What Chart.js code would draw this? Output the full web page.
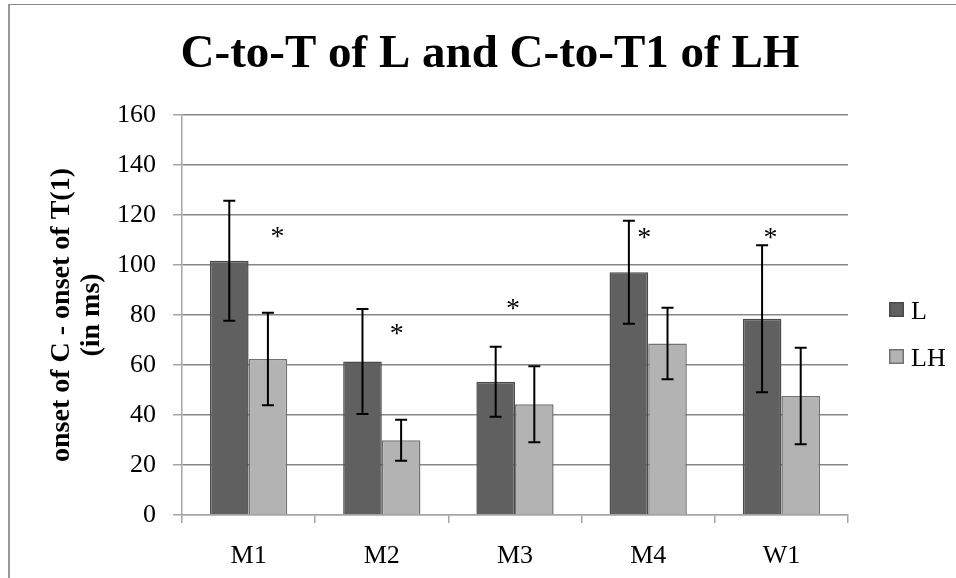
<!DOCTYPE html>
<html>
<head>
<meta charset="utf-8">
<script src="https://cdn.jsdelivr.net/npm/chart.js@4"></script>
<style>
  html, body { margin: 0; padding: 0; background: #fff; overflow: hidden; }
  #wrap { position: relative; width: 956px; height: 578px; }
  #frame {
    position: absolute; left: 8px; top: 4px; width: 1200px; height: 800px;
    border-left: 2px solid #989898; border-top: 1px solid #8a8a8a;
  }
  #chart { position: absolute; left: 0; top: 0; }
</style>
</head>
<body>
<div id="wrap">
  <div id="frame"></div>
  <canvas id="chart" width="956" height="578"></canvas>
</div>
<script>
// 데이터
const categories = ["M1", "M2", "M3", "M4", "W1"];
const seriesNames = ["L", "LH"];
const valuesL = [101.7, 61.4, 53.3, 97.1, 78.5];
const errorsL = [24.0, 21.0, 14.0, 20.6, 29.4];
const valuesLH = [62.4, 29.9, 44.3, 68.6, 47.6];
const errorsLH = [18.5, 8.2, 15.2, 14.3, 19.3];
// 유의성 표시(*) 높이, 없으면 null
const asteriskValues = [114, 75.2, 85.2, 113.6, 113.6];
const yTicks = [0, 20, 40, 60, 80, 100, 120, 140, 160];

const serif = "'Liberation Serif', 'DejaVu Serif', serif";
Chart.defaults.font.family = serif;
Chart.defaults.color = "#000";

// 오차 막대
const errorBarPlugin = {
  id: "errorBars",
  afterDatasetsDraw(chart) {
    const ctx = chart.ctx;
    const y = chart.scales.y;
    ctx.save();
    ctx.strokeStyle = "#000";
    ctx.lineWidth = 2;
    chart.data.datasets.forEach((ds, i) => {
      const meta = chart.getDatasetMeta(i);
      meta.data.forEach((bar, j) => {
        const v = ds.data[j];
        const e = ds.errors[j];
        const top = y.getPixelForValue(v + e);
        const bot = y.getPixelForValue(v - e);
        const cap = 6;
        ctx.beginPath();
        ctx.moveTo(bar.x, top);
        ctx.lineTo(bar.x, bot);
        ctx.moveTo(bar.x - cap, top);
        ctx.lineTo(bar.x + cap, top);
        ctx.moveTo(bar.x - cap, bot);
        ctx.lineTo(bar.x + cap, bot);
        ctx.stroke();
      });
    });
    ctx.restore();
  },
};

// 별표
const asteriskPlugin = {
  id: "asterisks",
  afterDatasetsDraw(chart, args, opts) {
    const ctx = chart.ctx;
    const x = chart.scales.x;
    const y = chart.scales.y;
    ctx.save();
    ctx.font = "28px " + serif;
    ctx.fillStyle = "#000";
    ctx.textAlign = "center";
    ctx.textBaseline = "alphabetic";
    asteriskValues.forEach((v, j) => {
      if (v === null) return;
      const px = x.getPixelForValue(j) + opts.offsets[j];
      const py = y.getPixelForValue(v) + 15;
      ctx.fillText("*", px, py);
    });
    ctx.restore();
  },
};

// 범례 (오른쪽)
const sideLegendPlugin = {
  id: "sideLegend",
  afterDraw(chart) {
    const ctx = chart.ctx;
    const area = chart.chartArea;
    ctx.save();
    ctx.font = "26px " + serif;
    ctx.textBaseline = "alphabetic";
    ctx.textAlign = "left";
    chart.data.datasets.forEach((ds, i) => {
      const bx = area.right + 41;
      const by = area.top + 187 + i * 47;
      ctx.fillStyle = ds.backgroundColor;
      ctx.strokeStyle = ds.borderColor;
      ctx.lineWidth = 1.5;
      ctx.fillRect(bx, by, 15, 15);
      ctx.strokeRect(bx + 0.75, by + 0.75, 13.5, 13.5);
      ctx.fillStyle = "#000";
      ctx.fillText(ds.label, bx + 22, by + 17);
    });
    ctx.restore();
  },
};

const ctx = document.getElementById("chart").getContext("2d");
new Chart(ctx, {
  type: "bar",
  data: {
    labels: categories,
    datasets: [
      {
        label: seriesNames[0],
        data: valuesL,
        errors: errorsL,
        backgroundColor: "#606060",
        borderColor: "#4a4a4a",
        borderWidth: 1.5,
      },
      {
        label: seriesNames[1],
        data: valuesLH,
        errors: errorsLH,
        backgroundColor: "#b3b3b3",
        borderColor: "#727272",
        borderWidth: 1.5,
      },
    ],
  },
  options: {
    responsive: false,
    animation: false,
    devicePixelRatio: 1,
    layout: { padding: { left: 24, right: 0, top: 0, bottom: 0 } },
    datasets: { bar: { categoryPercentage: 0.58, barPercentage: 1.0 } },
    scales: {
      x: {
        grid: {
          display: true,
          drawOnChartArea: false,
          drawTicks: true,
          tickLength: 8,
          color: "#a6a6a6",
          lineWidth: 1.5,
        },
        border: { display: true, color: "#a6a6a6", width: 1.5 },
        ticks: { font: { size: 26 }, padding: 18, color: "#000", maxRotation: 0 },
        afterFit: (scale) => {
          scale.height = 63;
        },
      },
      y: {
        min: 0,
        max: 160,
        afterBuildTicks: (scale) => {
          scale.ticks = yTicks.map((v) => ({ value: v }));
        },
        grid: {
          color: (c) => (c.tick && c.tick.value === 0 ? "#a6a6a6" : "#878787"),
          lineWidth: 1.5,
          tickLength: 9,
          tickColor: "#a6a6a6",
        },
        border: { display: true, color: "#a6a6a6", width: 1.5 },
        ticks: { font: { size: 26 }, padding: 17, color: "#000" },
        title: {
          display: true,
          text: ["onset of C - onset of T(1)", "(in ms)"],
          font: { size: 28, weight: "bold", lineHeight: "30px" },
          padding: { top: 23, bottom: 12 },
          color: "#000",
        },
        afterFit: (scale) => {
          scale.width = 158;
        },
      },
      // 범례 자리 확보용 (보이지 않음)
      yr: {
        position: "right",
        display: true,
        grid: { display: false },
        border: { display: false },
        ticks: { display: false },
        afterFit: (scale) => {
          scale.width = 108;
        },
      },
    },
    plugins: {
      legend: { display: false },
      tooltip: { enabled: false },
      title: {
        display: true,
        text: "C-to-T of L and C-to-T1 of LH",
        font: { size: 47, weight: "bold", lineHeight: 1.2 },
        color: "#000",
        padding: { top: 27, bottom: 31.6 },
      },
      asterisks: { offsets: [29, 15, -2, -4, -11] },
    },
  },
  plugins: [errorBarPlugin, asteriskPlugin, sideLegendPlugin],
});
</script>
</body>
</html>
